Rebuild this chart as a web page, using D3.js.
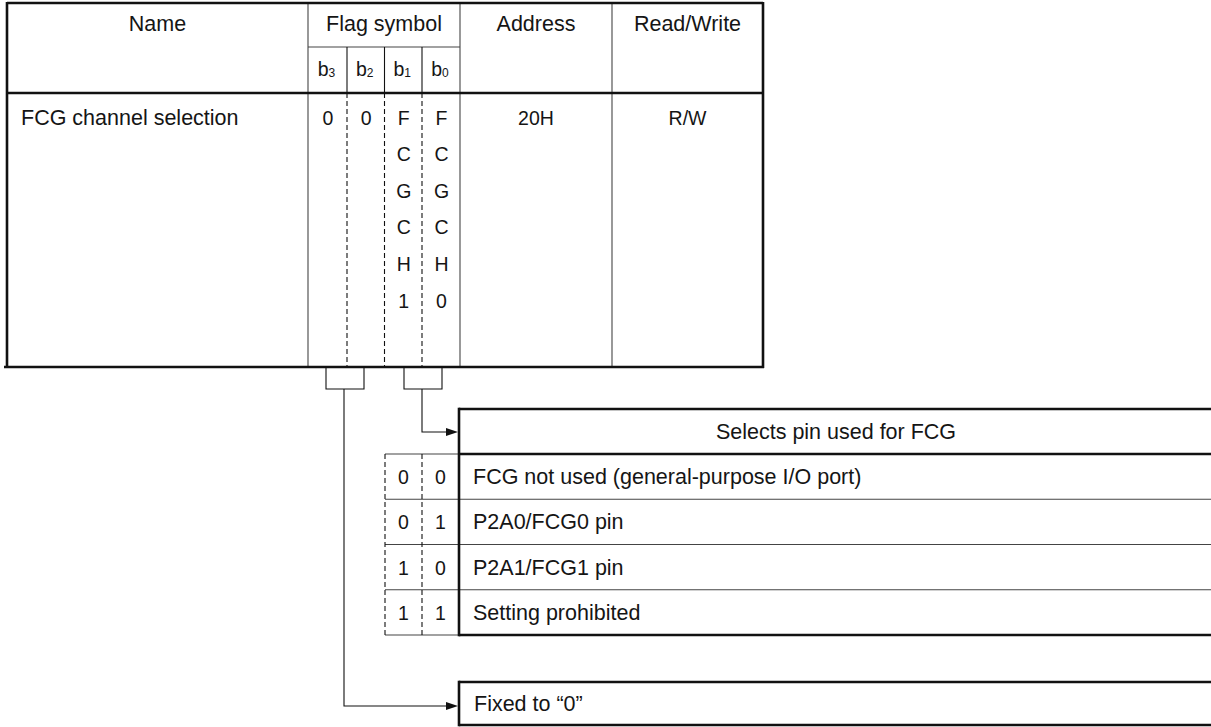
<!DOCTYPE html>
<html>
<head>
<meta charset="utf-8">
<script src="https://cdn.jsdelivr.net/npm/d3@7"></script>
<style>
  html, body { margin: 0; padding: 0; background: #fff; }
  svg { display: block; }
  text { font-family: "Liberation Sans", Arial, sans-serif; fill: #151515; }
</style>
</head>
<body>
<svg id="chart" width="1211" height="727"></svg>
<script>
// ---- data ----
const headerLabels = ["Name", "Flag symbol", "Address", "Read/Write"];
const bitLabels = ["3", "2", "1", "0"];
const registerName = "FCG channel selection";
const flagB3 = ["0"];
const flagB2 = ["0"];
const flagB1 = ["F", "C", "G", "C", "H", "1"];
const flagB0 = ["F", "C", "G", "C", "H", "0"];
const addressValue = "20H";
const rwValue = "R/W";
const selectTitle = "Selects pin used for FCG";
const selectB1 = ["0", "0", "1", "1"];
const selectB0 = ["0", "1", "0", "1"];
const selectDesc = ["FCG not used (general-purpose I/O port)", "P2A0/FCG0 pin", "P2A1/FCG1 pin", "Setting prohibited"];
const fixedText = "Fixed to \u201C0\u201D";

// ---- layout ----
const svg = d3.select("#chart");
const FS = 21.5;
const thick = 2.6, thin = 1.1;
const lineCol = "#111", thinCol = "#444";

// column edges of register table
const colX = { left: 7, name: 308, b: [308, 347, 384.5, 422, 460], addr: 460, rw: 612, right: 763 };
const rowY = { top: 3, hmid: 47, hbot: 93, bottom: 367 };
// body row scale (flag characters)
const bodyRow = d3.scaleLinear().domain([0, 5]).range([124.5, 307.5]);

function line(x1, y1, x2, y2, w, col, dash) {
  const l = svg.append("line").attr("x1", x1).attr("y1", y1).attr("x2", x2).attr("y2", y2)
    .attr("stroke", col || lineCol).attr("stroke-width", w);
  if (dash) l.attr("stroke-dasharray", dash);
  return l;
}
function text(x, y, s, anchor, size) {
  return svg.append("text").attr("x", x).attr("y", y).attr("text-anchor", anchor || "middle")
    .attr("font-size", size || FS).text(s);
}

// ---- register table ----
line(colX.name, rowY.top, colX.name, rowY.bottom, thin, thinCol);
line(colX.addr, rowY.top, colX.addr, rowY.bottom, thin, thinCol);
line(colX.rw, rowY.top, colX.rw, rowY.bottom, thin, thinCol);
line(colX.b[0], rowY.hmid, colX.b[4], rowY.hmid, thin, thinCol);
for (let i = 1; i < 4; i++) {
  line(colX.b[i], rowY.hmid, colX.b[i], rowY.hbot, thin, lineCol);
  line(colX.b[i], rowY.hbot, colX.b[i], rowY.bottom, thin, lineCol, "5,3");
}
line(colX.left, rowY.top, colX.right, rowY.top, thick);
line(colX.left, rowY.hbot, colX.right, rowY.hbot, thick);
line(4, rowY.bottom, colX.right + 1, rowY.bottom, thick);
line(colX.left, rowY.top - 1, colX.left, rowY.bottom, thick);
line(colX.right, rowY.top - 1, colX.right, rowY.bottom + 1, thick);

// header texts
text((colX.left + colX.name) / 2, 31, headerLabels[0]);
text((colX.b[0] + colX.b[4]) / 2, 31, headerLabels[1]);
text((colX.addr + colX.rw) / 2, 31, headerLabels[2]);
text((colX.rw + colX.right) / 2, 31, headerLabels[3]);
bitLabels.forEach((b, i) => {
  const cx = (colX.b[i] + colX.b[i + 1]) / 2;
  const t = svg.append("text").attr("x", cx - 1).attr("y", 76).attr("text-anchor", "middle").attr("font-size", FS - 2);
  t.append("tspan").text("b");
  t.append("tspan").attr("font-size", 12).attr("dy", 1).text(b);
});

// body
text(21, bodyRow(0), registerName, "start");
[flagB3, flagB2, flagB1, flagB0].forEach((arr, i) => {
  const cx = (colX.b[i] + colX.b[i + 1]) / 2 + 0.5;
  arr.forEach((c, j) => text(cx, bodyRow(j), c, "middle", FS - 2));
});
text((colX.addr + colX.rw) / 2, bodyRow(0), addressValue, "middle", FS - 2);
text((colX.rw + colX.right) / 2, bodyRow(0), rwValue, "middle", FS - 2);

// ---- brackets & connectors ----
const brackets = [{ x1: 326, x2: 364, mid: 344 }, { x1: 404, x2: 442, mid: 422 }];
const brBot = 389;
brackets.forEach(b => {
  svg.append("path").attr("d", `M${b.x1},${rowY.bottom}V${brBot}H${b.x2}V${rowY.bottom}`)
    .attr("fill", "none").attr("stroke", lineCol).attr("stroke-width", thin);
});
const boxLeft = 459;
function arrowTo(y) {
  svg.append("path").attr("d", `M${boxLeft - 1},${y}l-12,-4v8z`).attr("fill", lineCol);
}
svg.append("path").attr("d", `M${brackets[1].mid},${brBot}V432H${boxLeft - 6}`)
  .attr("fill", "none").attr("stroke", lineCol).attr("stroke-width", thin);
arrowTo(432);
svg.append("path").attr("d", `M${brackets[0].mid},${brBot}V706H${boxLeft - 6}`)
  .attr("fill", "none").attr("stroke", lineCol).attr("stroke-width", thin);
arrowTo(706);

// ---- select table ----
const selTop = 409, selHead = 454, selRight = 1212;
const selRow = d3.scaleLinear().domain([0, 4]).range([454, 635]);
const selColX = [385, 422, boxLeft];
for (let i = 1; i < 4; i++) line(selColX[0], selRow(i), selRight, selRow(i), thin, thinCol);
line(selColX[0], selRow(0), boxLeft, selRow(0), thin, thinCol);
line(selColX[0], selRow(4), boxLeft, selRow(4), thin, thinCol);
line(selColX[0], selRow(0), selColX[0], selRow(4), thin, lineCol, "5,3");
line(selColX[1], selRow(0), selColX[1], selRow(4), thin, lineCol, "5,3");
line(boxLeft, selTop, selRight, selTop, thick);
line(boxLeft, selHead, selRight, selHead, thick);
line(boxLeft, selRow(4), selRight, selRow(4), thick);
line(boxLeft, selTop - 1.3, boxLeft, selRow(4) + 1.3, thick);
text(836, 439, selectTitle);
selectDesc.forEach((d, i) => {
  const yb = (selRow(i) + selRow(i + 1)) / 2 + 7.5;
  text((selColX[0] + selColX[1]) / 2, yb, selectB1[i], "middle", FS - 2);
  text((selColX[1] + selColX[2]) / 2, yb, selectB0[i], "middle", FS - 2);
  text(473, yb, d, "start");
});

// ---- fixed box ----
const fxTop = 682, fxBot = 725;
line(boxLeft, fxTop, selRight, fxTop, thick);
line(boxLeft, fxBot, selRight, fxBot, thick);
line(boxLeft, fxTop - 1.3, boxLeft, fxBot + 1.3, thick);
text(474, 711, fixedText, "start");
</script>
</body>
</html>
